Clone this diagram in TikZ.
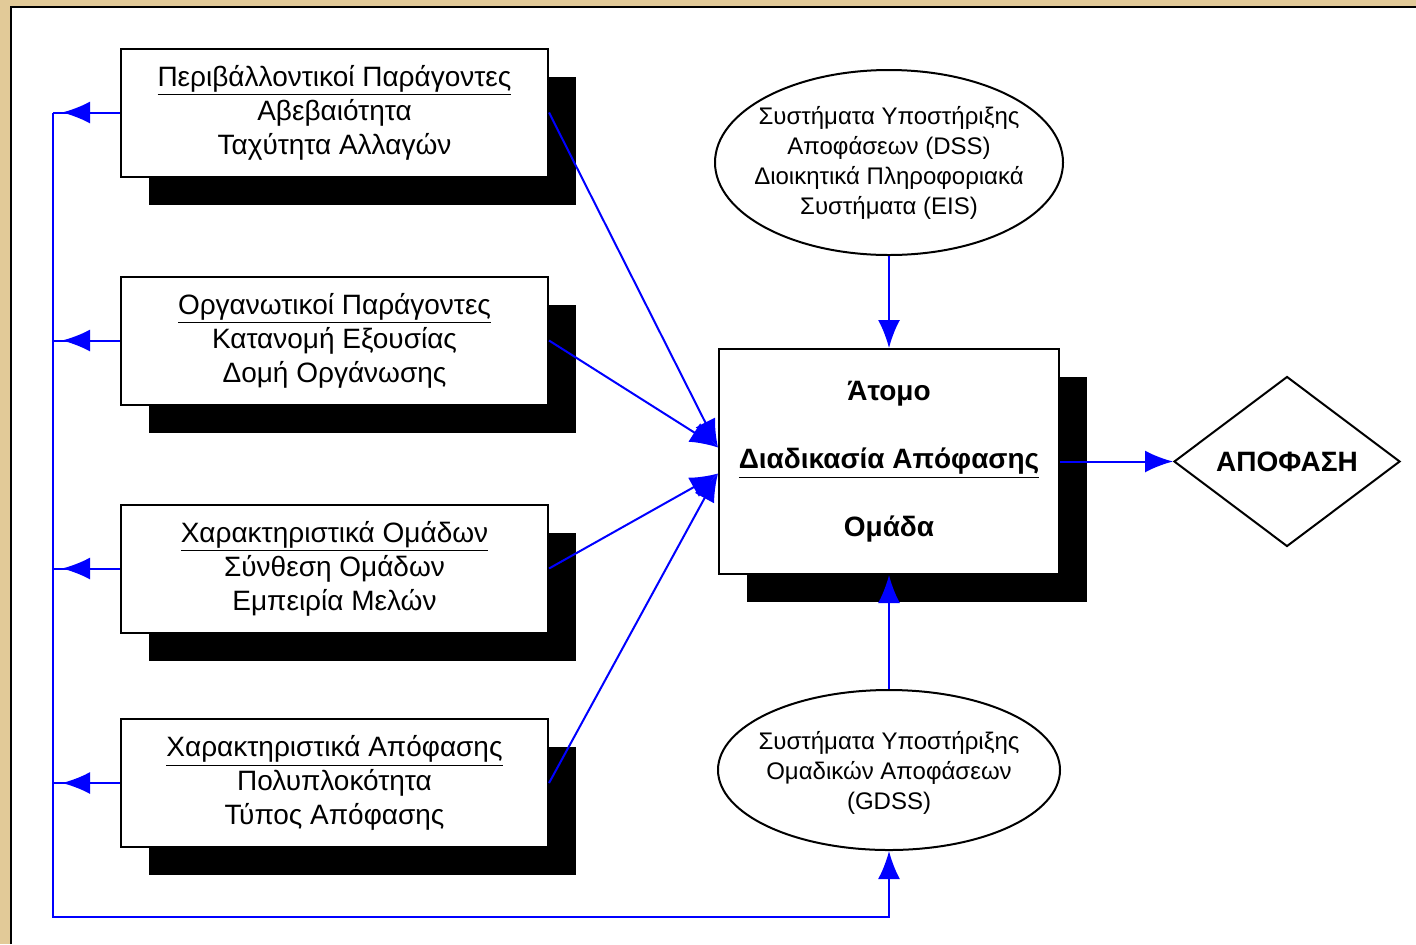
\documentclass[tikz,border=0pt]{standalone}
\usepackage{fontspec}
\setmainfont{Liberation Sans}
\usetikzlibrary{shapes.geometric,shadows}
\usetikzlibrary{arrows.meta,decorations.markings}
\definecolor{parchment}{RGB}{226,202,152}
\tikzset{
  factor/.style={
    % The shape:
    shape=rectangle,
    % The size:
    minimum width=213.5pt, minimum height=64pt, inner sep=0pt,
    % The border:
    draw=black, line width=1pt,
    % The filling, with a hard black shadow:
    fill=white,
    drop shadow={shadow xshift=14pt,shadow yshift=-14pt,fill=black,opacity=1},
    % The text:
    align=center, font=\fontsize{14}{17}\selectfont
  },
  process/.style={
    factor,
    minimum width=170pt, minimum height=112.5pt,
    font=\bfseries\fontsize{14}{17}\selectfont
  },
  system/.style={
    shape=ellipse,
    draw=black, line width=1pt, fill=white,
    inner sep=0pt, inner xsep=-12pt, % keep the ellipse tight round the text
    align=center, font=\fontsize{12}{15}\selectfont
  },
  decision/.style={
    shape=diamond, shape aspect=1.33,
    minimum width=113pt, minimum height=85pt, inner sep=0pt,
    draw=black, line width=1pt, fill=white,
    font=\bfseries\fontsize{14}{17}\selectfont
  },
  flow/.style={draw=blue, line width=1pt},
  feedback/.style={
    flow, postaction={decorate},
    decoration={markings, mark=at position -4.5pt with {\arrow{>}}}
  },
  >={Latex[length=14pt,width=11pt]}
}

\begin{document}
\begin{tikzpicture}[x=0.5pt,y=-0.5pt]
	\useasboundingbox (0,0) rectangle (1416,944);
	% frame
	\fill[parchment] (0,0) rectangle (1416,944);
	\fill[white] (11,7) rectangle (1416,944);
	\draw[line width=1.2pt] (11,944) |- (1416,7);

	% factors
	\node[factor] (env) at (334.5,112.5) {\underline{Περιβάλλοντικοί Παράγοντες}\\Αβεβαιότητα\\Ταχύτητα Αλλαγών};
	\node[factor] (org) at (334.5,340.5) {\underline{Οργανωτικοί Παράγοντες}\\Κατανομή Εξουσίας\\Δομή Οργάνωσης};
	\node[factor] (grp) at (334.5,568.5) {\underline{Χαρακτηριστικά Ομάδων}\\Σύνθεση Ομάδων\\Εμπειρία Μελών};
	\node[factor] (dec) at (334.5,783) {\underline{Χαρακτηριστικά Απόφασης}\\Πολυπλοκότητα\\Τύπος Απόφασης};

	% decision process
	\node[process] (proc) at (889,461.5) {Άτομο\\[17pt]\underline{Διαδικασία Απόφασης}\\[17pt]Ομάδα};
	\node[system, minimum width=174pt, minimum height=92.5pt] (dss) at (889,162.5)
		{Συστήματα Υποστήριξης\\Αποφάσεων (DSS)\\Διοικητικά Πληροφοριακά\\Συστήματα (EIS)};
	\node[system, minimum width=171pt, minimum height=80pt, text depth=-9pt] (gdss) at (889,770)
		{Συστήματα Υποστήριξης\\Ομαδικών Αποφάσεων\\(GDSS)};
	\node[decision] (out) at (1287,461.5) {ΑΠΟΦΑΣΗ};

	\coordinate (in1) at ([yshift=7pt]proc.west);
	\coordinate (in2) at ([yshift=-6pt]proc.west);
	\coordinate (trunk) at (53,112.5);
	\coordinate (base) at (53,917);

	\draw[flow,->] (env.east) -- (in1);
	\draw[flow,->] (org.east) -- (in1);
	\draw[flow,->] (grp.east) -- (in2);
	\draw[flow,->] (dec.east) -- (in2);
	\draw[flow,->] (dss.south) -- (proc.north);
	\draw[flow,->] (gdss.north) -- (proc.south);
	\draw[flow,->] (proc.east) -- (out.west);

	% feedback loop
	\foreach \b in {env,org,grp,dec}
		\draw[feedback] (\b.west) -- (\b.west -| trunk);
	\draw[flow,->] (trunk) -- (base) -| (gdss.south);
\end{tikzpicture}
\end{document}
